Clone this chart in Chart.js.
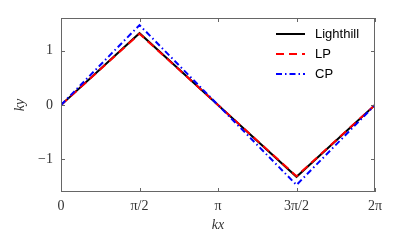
<!DOCTYPE html>
<html>
<head>
<meta charset="utf-8">
<script src="https://cdn.jsdelivr.net/npm/chart.js@4"></script>
<style>
  html, body { margin: 0; padding: 0; background: #fff; }
  #wrap { width: 400px; height: 250px; }
</style>
</head>
<body>
<div id="wrap"><canvas id="chart"></canvas></div>
<script>
// ===== Dados =====
const PI = Math.PI;
const kx = [0, PI / 2, PI, 3 * PI / 2, 2 * PI];
const lighthill = [0, 1.32, 0, -1.32, 0];
const lp = [0, 1.31, 0, -1.31, 0];
const cp = [0, 1.47, 0, -1.47, 0];

const xTicks = [0, PI / 2, PI, 3 * PI / 2, 2 * PI];
const xTickLabels = ["0", "π/2", "π", "3π/2", "2π"];
const yTicks = [-1, 0, 1];
const yTickLabels = ["−1", "0", "1"];

const serif = "'Liberation Serif', 'DejaVu Serif', serif";
const sans = "'Liberation Sans', Arial, sans-serif";
const frameColor = "#666";
const textColor = "#333";

function pts(ys) {
  return kx.map((x, i) => ({ x: x, y: ys[i] }));
}

// ===== Moldura e ticks para dentro =====
const framePlugin = {
  id: "frame",
  afterDatasetsDraw(chart) {
    const { ctx, chartArea: a, scales } = chart;
    ctx.save();
    ctx.strokeStyle = frameColor;
    ctx.lineWidth = 1;
    ctx.strokeRect(a.left + 0.5, a.top + 0.5, a.right - a.left - 1, a.bottom - a.top - 1);
    ctx.beginPath();
    xTicks.forEach(v => {
      const px = Math.round(scales.x.getPixelForValue(v)) + 0.5;
      ctx.moveTo(px, a.bottom); ctx.lineTo(px, a.bottom - 4);
      ctx.moveTo(px, a.top); ctx.lineTo(px, a.top + 4);
    });
    yTicks.forEach(v => {
      const py = Math.round(scales.y.getPixelForValue(v)) + 0.5;
      ctx.moveTo(a.left, py); ctx.lineTo(a.left + 4, py);
      ctx.moveTo(a.right, py); ctx.lineTo(a.right - 4, py);
    });
    ctx.stroke();
    ctx.restore();
  }
};

// ===== Legenda =====
const legendPlugin = {
  id: "legendBox",
  afterDatasetsDraw(chart) {
    const { ctx } = chart;
    ctx.save();
    ctx.font = "13px " + sans;
    ctx.textBaseline = "middle";
    chart.data.datasets.forEach((ds, i) => {
      const y = 34 + i * 20;
      ctx.strokeStyle = ds.borderColor;
      ctx.lineWidth = ds.borderWidth;
      ctx.setLineDash(ds.borderDash || []);
      ctx.beginPath();
      ctx.moveTo(276, y); ctx.lineTo(305, y);
      ctx.stroke();
      ctx.setLineDash([]);
      ctx.fillStyle = "#000";
      ctx.fillText(ds.label, 315, y);
    });
    ctx.restore();
  }
};

const ctx = document.getElementById("chart").getContext("2d");
new Chart(ctx, {
  type: "line",
  data: {
    datasets: [
      { label: "Lighthill", data: pts(lighthill), borderColor: "#000000", borderWidth: 2, order: 2 },
      { label: "LP", data: pts(lp), borderColor: "#ff0000", borderWidth: 2, borderDash: [8, 5], order: 1 },
      { label: "CP", data: pts(cp), borderColor: "#0000ff", borderWidth: 2, borderDash: [6, 3, 1.5, 3], order: 0 }
    ]
  },
  options: {
    responsive: true,
    maintainAspectRatio: false,
    animation: false,
    elements: { point: { radius: 0 }, line: { tension: 0 } },
    layout: { padding: { top: 18, right: 25, left: 0, bottom: 16 } },
    plugins: { legend: { display: false }, tooltip: { enabled: false } },
    scales: {
      x: {
        type: "linear",
        min: 0,
        max: 2 * PI,
        afterBuildTicks: s => { s.ticks = xTicks.map(v => ({ value: v })); },
        afterFit: s => { s.height = 42; },
        grid: { display: false, drawTicks: false },
        border: { display: false },
        ticks: {
          padding: 6,
          color: textColor,
          font: { family: serif, size: 14 },
          callback: (v, i) => xTickLabels[i]
        },
        title: {
          display: true,
          text: "kx",
          color: textColor,
          font: { family: serif, size: 14, style: "italic" },
          padding: { top: 4, bottom: 0 }
        }
      },
      y: {
        type: "linear",
        min: -1.6,
        max: 1.6,
        afterBuildTicks: s => { s.ticks = yTicks.map(v => ({ value: v })); },
        afterFit: s => { s.width = 61; },
        grid: { display: false, drawTicks: false },
        border: { display: false },
        ticks: {
          padding: 8,
          color: textColor,
          font: { family: serif, size: 14 },
          callback: (v, i) => yTickLabels[i]
        },
        title: {
          display: true,
          text: "ky",
          color: textColor,
          font: { family: serif, size: 14, style: "italic" },
          padding: { top: 12, bottom: 0 }
        }
      }
    }
  },
  plugins: [framePlugin, legendPlugin]
});
</script>
</body>
</html>
